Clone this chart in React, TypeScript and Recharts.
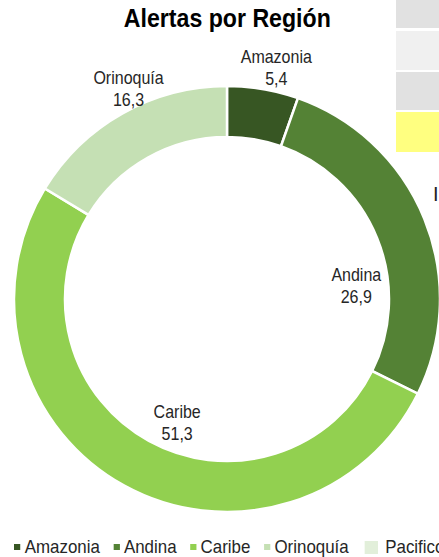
import React from "react"
import { PieChart, Pie, Cell } from "recharts"

const regions = ["Amazonia", "Andina", "Caribe", "Orinoquía", "Pacifico"]
const alerts = [5.4, 26.9, 51.3, 16.3, 0]
const colors = ["#375623", "#548235", "#92D050", "#C5E0B4", "#E2EFDA"]

const data = regions.map((name, i) => ({ name, value: alerts[i] }))

// no Arial Narrow here, so squeeze Liberation Sans instead
const FONT = "'Liberation Sans', Arial, sans-serif"
const SQUEEZE = 0.89

// where Excel put each label: angle (deg) and distance from the centre
const labelSpot: Record<string, { angle: number; r: number }> = {
  Amazonia: { angle: 78, r: 237 },
  Andina: { angle: 6, r: 130 },
  Caribe: { angle: -112, r: 133 },
  Orinoquía: { angle: 115, r: 233 },
}

const RAD = Math.PI / 180

function renderLabel(props: any) {
  const { cx, cy, name, value } = props
  const spot = labelSpot[name]
  if (!spot || !value) return null
  const x = cx + spot.r * Math.cos(spot.angle * RAD)
  const y = cy - spot.r * Math.sin(spot.angle * RAD)
  return (
    <text
      transform={`translate(${x},${y}) scale(${SQUEEZE},1)`}
      textAnchor="middle"
      fill="#262626"
      fontFamily={FONT}
      fontSize={18}
    >
      <tspan x={0} dy={-4}>{name}</tspan>
      <tspan x={0} dy={22}>{String(value).replace(".", ",")}</tspan>
    </text>
  )
}

function LegendRow() {
  return (
    <div
      style={{
        position: "absolute",
        left: 14,
        top: 536,
        display: "flex",
        alignItems: "center",
        fontFamily: FONT,
        fontSize: 19,
        color: "#262626",
        whiteSpace: "nowrap",
        transform: `scaleX(${SQUEEZE})`,
        transformOrigin: "left center",
      }}
    >
      {regions.map((r, i) => (
        <span key={r} style={{ display: "flex", alignItems: "center", marginRight: 15 }}>
          <span
            style={{
              display: "inline-block",
              width: i === 4 ? 15 : 7,
              height: i === 4 ? 13 : 6,
              background: colors[i],
              marginLeft: i === 4 ? 3 : 0,
              marginRight: i === 4 ? 8 : 5,
            }}
          />
          {r}
        </span>
      ))}
    </div>
  )
}

export default function App() {
  return (
    <div
      style={{
        position: "absolute",
        left: 0,
        top: 0,
        width: 439,
        height: 557,
        background: "#fff",
        overflow: "hidden",
      }}
    >
      {/* bits of the spreadsheet behind the chart */}
      <div style={{ position: "absolute", left: 396, top: 0, width: 43, height: 28, background: "#E1E1E1" }} />
      <div style={{ position: "absolute", left: 396, top: 31, width: 43, height: 39, background: "#F0F0F0" }} />
      <div style={{ position: "absolute", left: 396, top: 72, width: 43, height: 38, background: "#E1E1E1" }} />
      <div style={{ position: "absolute", left: 396, top: 112, width: 43, height: 40, background: "#FFFF80" }} />
      <div style={{ position: "absolute", left: 433, top: 183, fontFamily: FONT, fontSize: 20, color: "#222" }}>
        I
      </div>

      <div
        style={{
          position: "absolute",
          left: 0,
          top: 3,
          width: 454,
          textAlign: "center",
          fontFamily: FONT,
          fontWeight: "bold",
          fontSize: 26,
          color: "#000",
        }}
      >
        <span style={{ display: "inline-block", transform: `scaleX(${SQUEEZE})` }}>
          Alertas por Región
        </span>
      </div>

      <PieChart
        width={439}
        height={557}
        margin={{ top: 0, right: 0, bottom: 0, left: 0 }}
        style={{ position: "absolute", left: 0, top: 0 }}
      >
        <Pie
          data={data}
          dataKey="value"
          nameKey="name"
          cx={227}
          cy={299}
          innerRadius={162}
          outerRadius={213}
          startAngle={90}
          endAngle={-270}
          stroke="#fff"
          strokeWidth={2.5}
          label={renderLabel}
          labelLine={false}
          isAnimationActive={false}
        >
          {data.map((d, i) => (
            <Cell key={d.name} fill={colors[i]} />
          ))}
        </Pie>
      </PieChart>

      <LegendRow />
    </div>
  )
}
